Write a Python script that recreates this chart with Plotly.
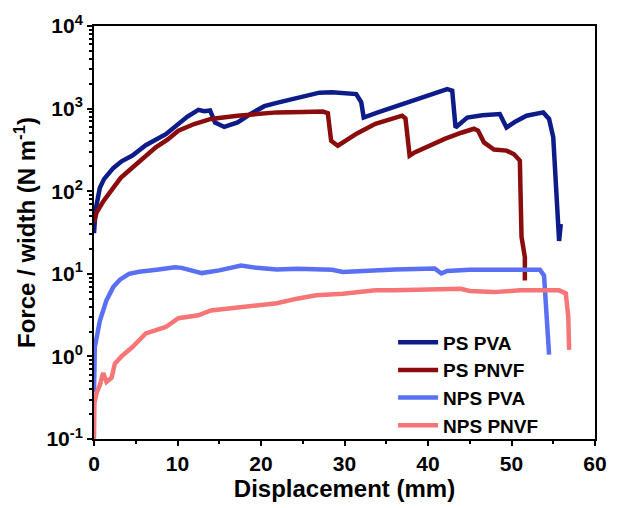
import plotly.graph_objects as go

# ---- data ----
ps_pva_x = [0, 0.2, 0.7, 1.2, 2.3, 3.3, 4.6, 6.2, 8.6, 10.1, 11.2, 12.5, 13.2, 13.9, 14.5, 15.6, 17.2, 18.8, 20.4, 22, 23.9, 25.5, 27, 28.5, 30, 31.4, 32, 32.3, 34, 36, 38, 40, 42.3, 42.9, 43.3, 44.7, 46.5, 48.6, 49.4, 50.5, 51.8, 53.8, 54.5, 55, 55.3, 55.5, 55.7, 55.9]
ps_pva_y = [31, 60, 110, 140, 190, 230, 270, 360, 490, 640, 800, 967, 930, 950, 679, 600, 680, 870, 1070, 1180, 1300, 1430, 1560, 1580, 1540, 1500, 1200, 780, 900, 1050, 1230, 1430, 1720, 1650, 590, 780, 830, 860, 590, 700, 820, 900, 750, 450, 134, 60, 25, 40]

ps_pnvf_x = [0, 0.3, 1.1, 2.3, 3.2, 4.2, 6.2, 7.4, 8.8, 10.1, 12, 14, 17.2, 20, 21.9, 25, 27.4, 28, 28.4, 29.2, 30, 31.5, 33.7, 35.5, 36.9, 37.3, 37.8, 38.4, 40, 42, 44, 45.5, 46, 46.7, 47.9, 49.4, 50.3, 51, 51.2, 51.6, 51.6]
ps_pnvf_y = [42, 55, 75, 112, 145, 178, 270, 340, 420, 540, 650, 750, 820, 870, 900, 910, 920, 880, 407, 355, 400, 500, 655, 740, 820, 760, 270, 295, 350, 430, 510, 570, 540, 390, 320, 310, 280, 235, 28, 15.9, 8.3]

nps_pva_x = [0, 0.1, 0.7, 1.5, 2.3, 3.1, 4.2, 5.4, 7.5, 9.7, 10.5, 12.9, 15, 17.6, 19.5, 21.9, 24.3, 26.6, 28.5, 29.8, 31.5, 33.7, 36, 38.5, 40.8, 41.6, 42.3, 45, 48, 51, 53.4, 53.9, 54.1, 54.3, 54.5]
nps_pva_y = [0.37, 1.3, 2.7, 4.8, 6.9, 8.5, 10, 10.6, 11.2, 12, 11.8, 10.2, 11.0, 12.6, 11.8, 11.3, 11.5, 11.5, 11.2, 10.5, 10.8, 11.2, 11.3, 11.4, 11.6, 10.1, 10.8, 11.2, 11.3, 11.4, 11.2, 9.5, 4.8, 2.0, 1.05]

nps_pnvf_x = [0, 0.05, 0.3, 0.7, 1.1, 1.5, 2.1, 2.5, 3.3, 4.6, 6.2, 8.6, 10.1, 12.5, 14, 18, 21.9, 24.3, 26.6, 29.8, 33.7, 36, 40, 43.9, 45, 47.9, 51, 53.5, 55.7, 56.5, 56.8, 56.9]
nps_pnvf_y = [0.1, 0.27, 0.36, 0.45, 0.63, 0.49, 0.55, 0.82, 1.0, 1.3, 1.9, 2.27, 2.9, 3.15, 3.6, 3.96, 4.4, 5.0, 5.5, 5.75, 6.3, 6.3, 6.5, 6.6, 6.2, 6.0, 6.3, 6.4, 6.3, 5.8, 3.0, 1.2]

series = [
    ("PS PVA", ps_pva_x, ps_pva_y, "#0e1c8a"),
    ("PS PNVF", ps_pnvf_x, ps_pnvf_y, "#8a0c0c"),
    ("NPS PVA", nps_pva_x, nps_pva_y, "#5a70f4"),
    ("NPS PNVF", nps_pnvf_x, nps_pnvf_y, "#f67576"),
]

y_major = [0.1, 1, 10, 100, 1000, 10000]
y_labels = ["10<sup>-1</sup>", "10<sup>0</sup>", "10<sup>1</sup>", "10<sup>2</sup>", "10<sup>3</sup>", "10<sup>4</sup>"]
x_major = [0, 10, 20, 30, 40, 50, 60]

y_minor = [m * d for d in [0.1, 1, 10, 100, 1000] for m in range(2, 10)]

fig = go.Figure()
for name, xs, ys, col in series:
    fig.add_trace(go.Scatter(x=xs, y=ys, mode="lines", name=name,
                             line=dict(color=col, width=4.5)))

font_family = "Liberation Sans, Arial, sans-serif"
fig.update_layout(
    width=619, height=508,
    margin=dict(l=94, r=16, t=25, b=69),
    plot_bgcolor="white", paper_bgcolor="white",
    font=dict(family=font_family, size=20, color="black", weight="bold"),
    showlegend=True,
    legend=dict(x=0.597, y=0.28, xanchor="left", yanchor="top",
                bgcolor="rgba(0,0,0,0)", font=dict(size=19, weight="bold"),
                tracegroupgap=0, itemwidth=40),
)
fig.update_xaxes(
    range=[0, 60], tickmode="array", tickvals=x_major,
    showline=True, linecolor="black", linewidth=2, mirror=True,
    ticks="outside", ticklen=5, tickwidth=2, tickcolor="black",
    minor=dict(tickmode="array", tickvals=[5, 15, 25, 35, 45, 55], ticks="outside", ticklen=3, tickwidth=2, tickcolor="black"),
    showgrid=False, zeroline=False,
    tickfont=dict(size=21, weight="bold"),
    title=dict(text="Displacement (mm)", font=dict(size=24, weight="bold"), standoff=4),
)
fig.update_yaxes(
    type="log", range=[-1, 4], tickmode="array", tickvals=y_major, ticktext=y_labels,
    showline=True, linecolor="black", linewidth=2, mirror=True,
    ticks="outside", ticklen=5, tickwidth=2, tickcolor="black",
    minor=dict(tickmode="array", tickvals=y_minor, ticks="outside", ticklen=3, tickwidth=1.5, tickcolor="black"),
    showgrid=False, zeroline=False,
    tickfont=dict(size=21, weight="bold"),
    title=dict(text="Force / width (N m<sup>-1</sup>)", font=dict(size=24, weight="bold"), standoff=4),
)

fig.write_html("out.html")
